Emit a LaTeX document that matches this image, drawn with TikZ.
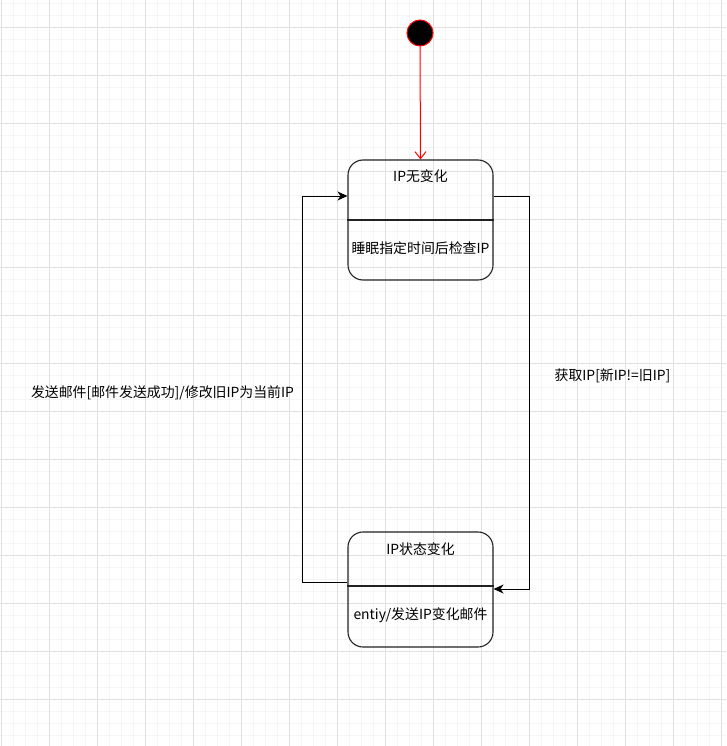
\documentclass[tikz,border=0pt]{standalone}
\usepackage{fontspec}
\setmainfont{Noto Sans CJK SC}
\usetikzlibrary{arrows.meta}
\definecolor{gridminor}{HTML}{F5F5F5}
\definecolor{gridmajor}{HTML}{E0E0E0}
\definecolor{boxline}{HTML}{222222}
\tikzset{
  statebox/.style={draw=boxline, line width=1.1pt, rounded corners=15pt, minimum width=145pt, minimum height=120pt, inner sep=0pt, fill=none},
  divider/.style={draw=boxline, line width=1.1pt},
  txt/.style={inner sep=0pt, font=\fontsize{13.9}{16}\selectfont, text=black},
  conn/.style={draw=black, line width=1pt, -{Stealth[length=10pt,width=9pt,inset=3pt]}},
  startconn/.style={draw=red, line width=1pt, -{Straight Barb[length=7pt,width=11pt]}},
}
\begin{document}
\begin{tikzpicture}[x=1pt,y=-1pt]
\useasboundingbox (0,0) rectangle (726,746);
% grid
\foreach \i in {0,...,60} {
  \draw[gridminor, line width=0.8pt] ({1+12*\i},0) -- ({1+12*\i},746);
}
\foreach \i in {0,...,62} {
  \draw[gridminor, line width=0.8pt] (0,{3+12*\i}) -- (726,{3+12*\i});
}
\foreach \i in {0,...,15} {
  \draw[gridmajor, line width=0.8pt] ({1+48*\i},0) -- ({1+48*\i},746);
}
\foreach \i in {0,...,15} {
  \draw[gridmajor, line width=0.8pt] (0,{27+48*\i}) -- (726,{27+48*\i});
}
% start
\node[circle, draw=red, fill=black, line width=1pt, minimum size=26pt, inner sep=0pt] (start) at (420,33) {};
% state 1
\node[statebox] (s1) at (420.5,220) {};
\draw[divider] (s1.west |- 0,220) coordinate (s1dl) -- (s1.east |- 0,220) coordinate (s1dr);
\node[txt] (s1title) at (420.5,176) {IP无变化};
\node[txt] (s1body) at (420.5,248) {睡眠指定时间后检查IP};
% state 2
\node[statebox, minimum height=115pt] (s2) at (420.5,589.5) {};
\draw[divider] (s2.west |- 0,586) coordinate (s2dl) -- (s2.east |- 0,586) coordinate (s2dr);
\node[txt] (s2title) at (420.5,549) {IP状态变化};
\node[txt] (s2body) at (420.5,615) {entiy/发送IP变化邮件};
% connectors
\draw[startconn] (start.south) -- (s1.north);
\coordinate (r1) at (529,196);
\coordinate (r2) at (529,589);
\draw[conn] (s1.east |- 0,196) -- (r1) -- (r2) -- (s2.east |- 0,589);
\coordinate (l1) at (302,582);
\coordinate (l2) at (302,196);
\draw[conn] (s2.west |- 0,582) -- (l1) -- (l2) -- (s1.west |- 0,196);
% labels
\node[txt] (lbl1) at (162.5,393) {发送邮件[邮件发送成功]/修改旧IP为当前IP};
\node[txt] (lbl2) at (612.5,376) {获取IP[新IP!=旧IP]};
\end{tikzpicture}
\end{document}
